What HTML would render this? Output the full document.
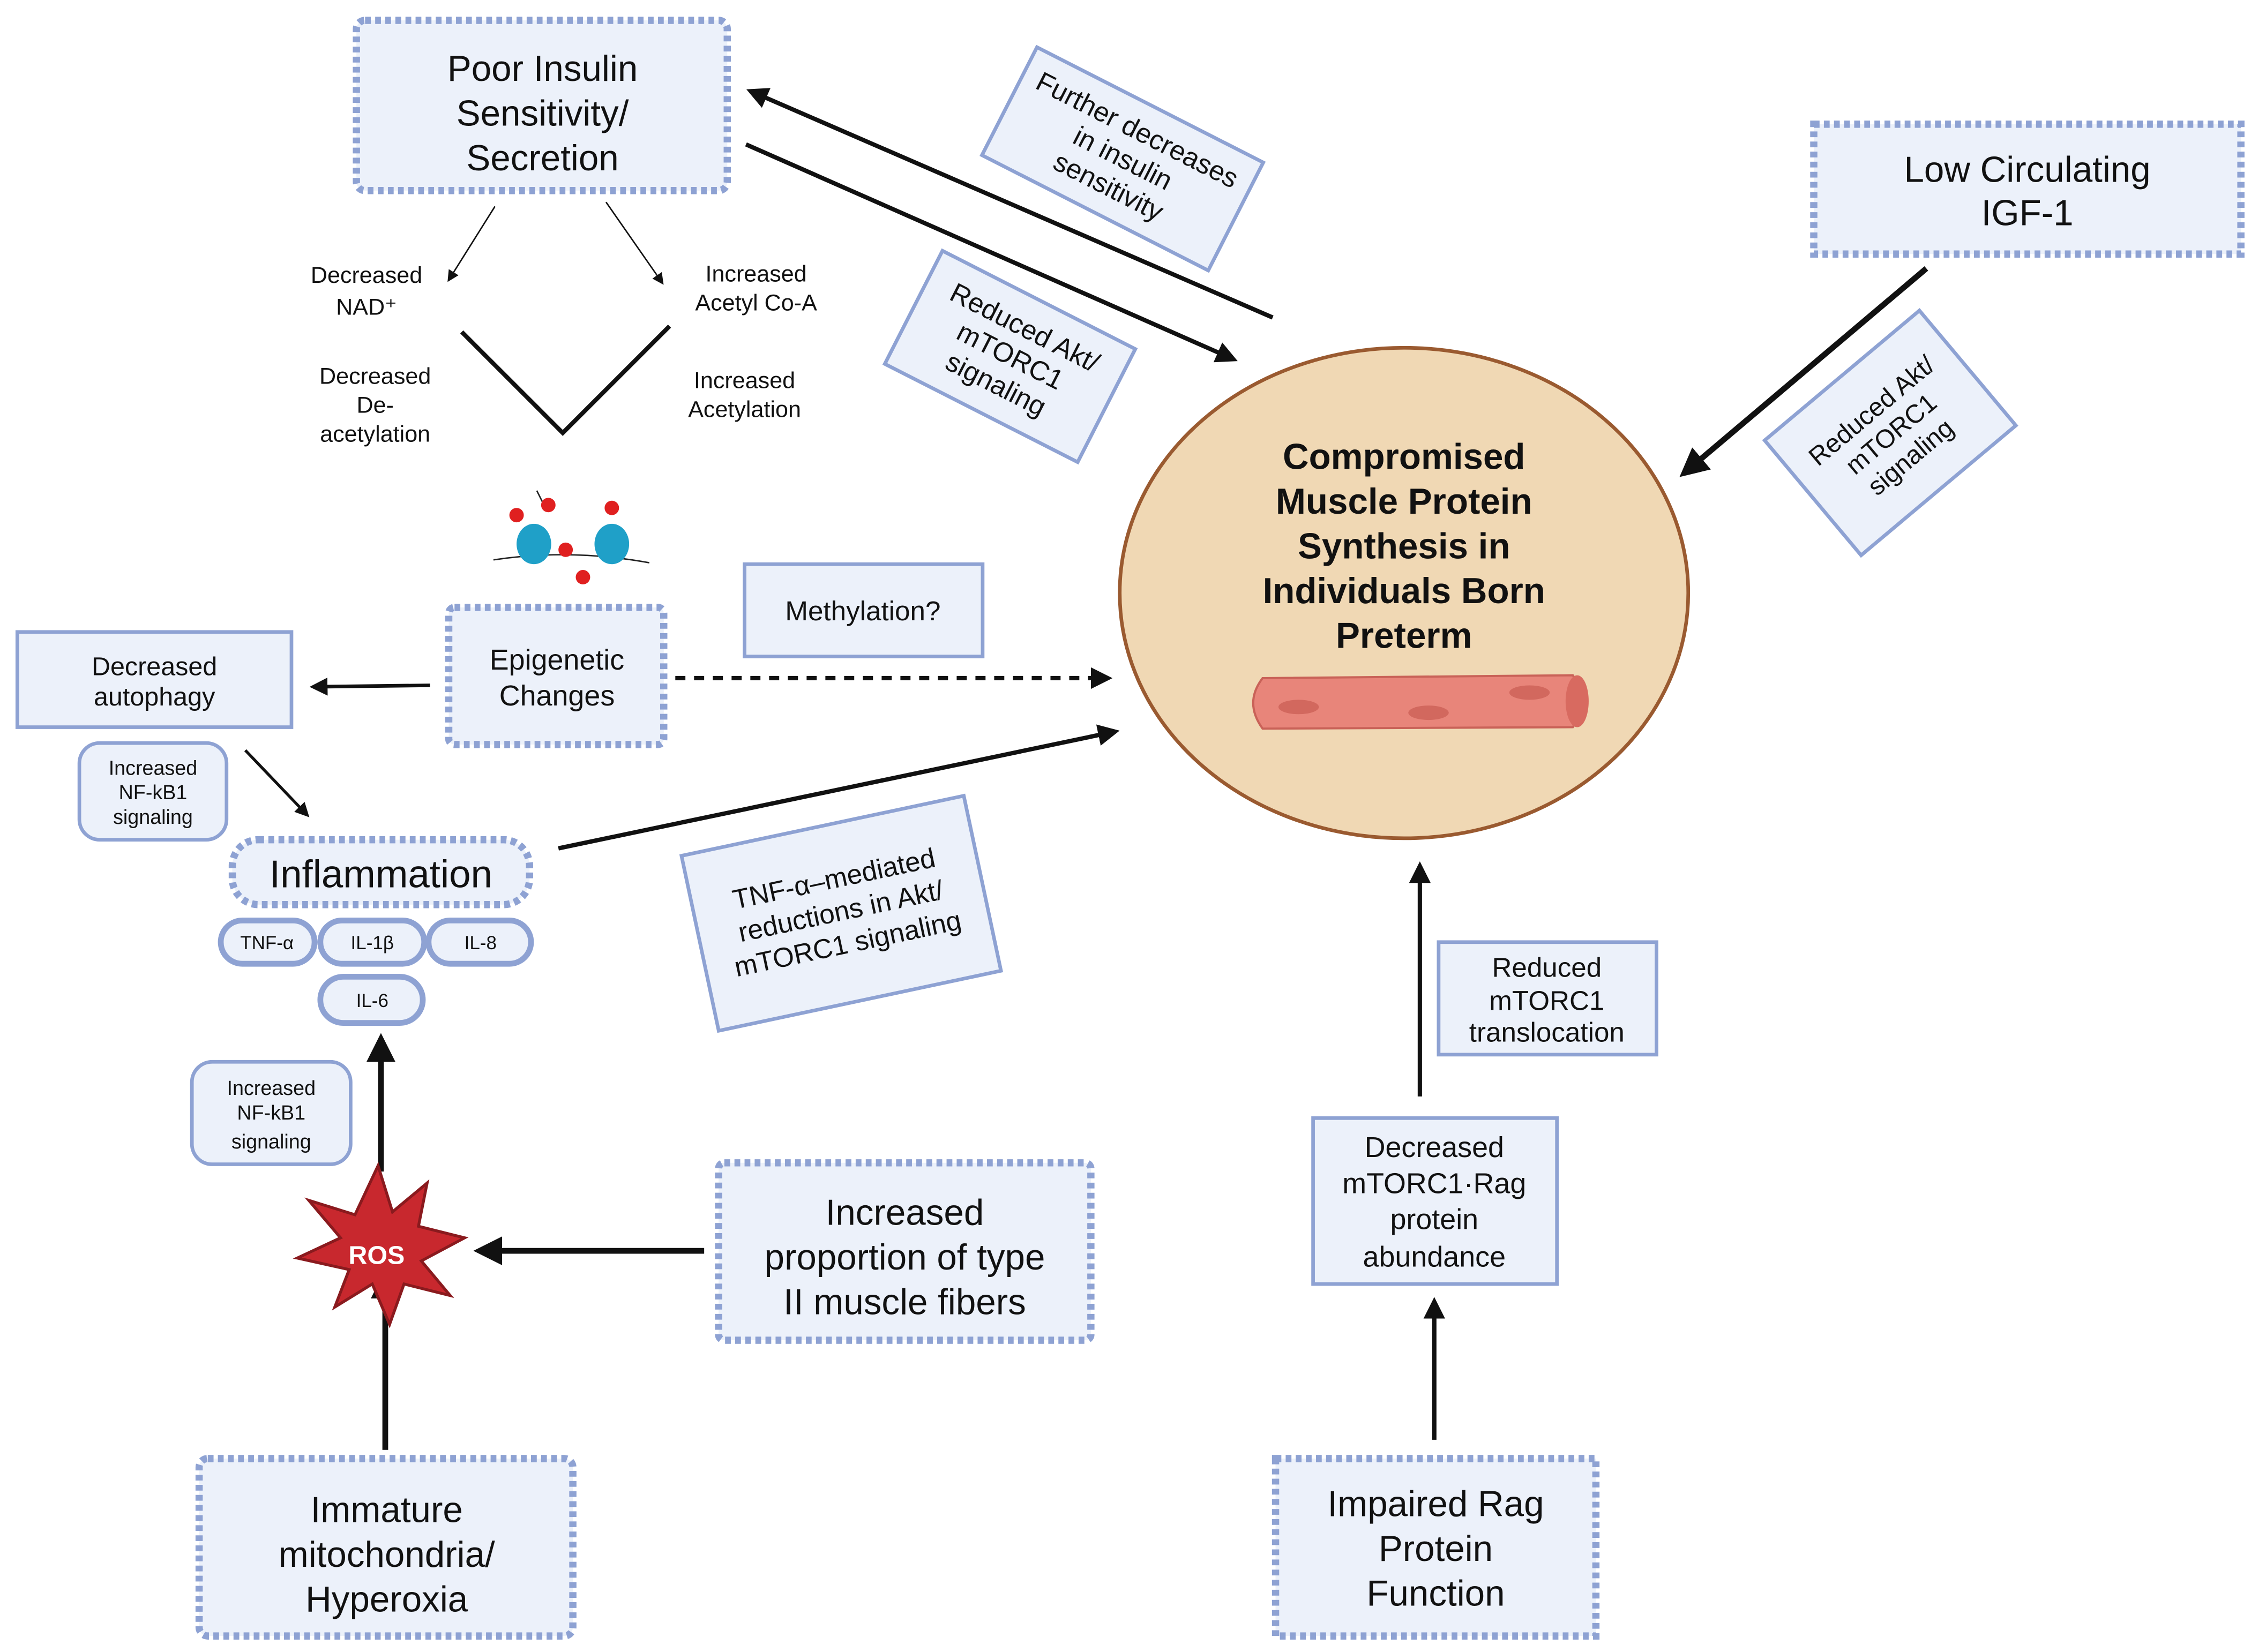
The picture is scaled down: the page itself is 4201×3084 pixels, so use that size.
<!DOCTYPE html>
<html><head><meta charset="utf-8"><style>
html,body{margin:0;padding:0;background:#fff;}
svg{display:block;}
text{font-family:"Liberation Sans",sans-serif;fill:#111;}
</style></head><body>
<svg width="4201" height="3084" viewBox="0 0 1560 1145" xmlns="http://www.w3.org/2000/svg">
<defs>
<marker id="ah" viewBox="0 0 10 10" refX="8" refY="5" markerWidth="5" markerHeight="5" orient="auto"><path d="M0,0 L10,5 L0,10 z" fill="#111"/></marker>
<marker id="ahs" viewBox="0 0 10 10" refX="8" refY="5" markerWidth="8" markerHeight="8" orient="auto"><path d="M0,0 L10,5 L0,10 z" fill="#111"/></marker>
</defs>
<g fill="#ecf1fa" stroke="#8ea2d3" stroke-width="5" stroke-dasharray="4 3">
<rect x="247" y="14" width="257" height="118" rx="6"/>
<rect x="1257" y="86" width="296" height="90"/>
<rect x="311" y="421" width="149" height="95" rx="4"/>
<rect x="161" y="582" width="206" height="45" rx="18"/>
<rect x="498" y="806" width="258" height="123" rx="4"/>
<rect x="138" y="1011" width="259" height="123" rx="6"/>
<rect x="884" y="1011" width="222" height="123"/>
</g>
<g fill="#ecf1fa" stroke="#8ea2d3" stroke-width="2.5">
<rect x="516" y="391" width="165" height="64"/>
<rect x="12" y="438" width="190" height="66"/>
<rect x="997" y="653" width="151" height="78"/>
<rect x="910" y="775" width="169" height="115"/>
<rect x="55" y="515" width="102" height="67" rx="14"/>
<rect x="133" y="736" width="110" height="71" rx="14"/>
<g transform="translate(778,110) rotate(27)"><rect x="-88" y="-42" width="176" height="84"/></g>
<g transform="translate(700,247) rotate(27)"><rect x="-75" y="-44" width="150" height="88"/></g>
<g transform="translate(1310,300) rotate(-40)"><rect x="-70" y="-52" width="140" height="104"/></g>
<g transform="translate(583,633) rotate(-12)"><rect x="-100" y="-62" width="200" height="124"/></g>
</g>
<g fill="#ecf1fa" stroke="#8ea2d3" stroke-width="4">
<rect x="153" y="638" width="65" height="30" rx="15"/>
<rect x="222" y="638" width="72" height="30" rx="15"/>
<rect x="297" y="638" width="71" height="30" rx="15"/>
<rect x="222" y="677" width="71" height="32" rx="16"/>
</g>
<ellipse cx="973" cy="411" rx="197" ry="170" fill="#f0d8b4" stroke="#9a5a30" stroke-width="2.5"/>
<g>
<path d="M875,470 L1090,468 Q1102,486 1090,504 L875,505 Q862,487 875,470z" fill="#e8857a" stroke="#c96258" stroke-width="1.5"/>
<ellipse cx="1093" cy="486" rx="8" ry="18" fill="#d86a60"/>
<ellipse cx="900" cy="490" rx="14" ry="5" fill="#d2685e"/>
<ellipse cx="990" cy="494" rx="14" ry="5" fill="#d2685e"/>
<ellipse cx="1060" cy="480" rx="14" ry="5" fill="#d2685e"/>
</g>
<g stroke="#111" fill="none">
<line x1="882" y1="220" x2="520" y2="63" stroke-width="3" marker-end="url(#ah)"/>
<line x1="517" y1="100" x2="855" y2="249" stroke-width="3" marker-end="url(#ah)"/>
<line x1="1335" y1="186" x2="1167" y2="328" stroke-width="4" marker-end="url(#ah)"/>
<line x1="343" y1="143" x2="311" y2="194" stroke-width="1" marker-end="url(#ahs)"/>
<line x1="420" y1="140" x2="459" y2="196" stroke-width="1" marker-end="url(#ahs)"/>
<polyline points="320,230 390,300 464,226" stroke-width="3"/>
<line x1="468" y1="470" x2="768" y2="470" stroke-width="3" stroke-dasharray="7 6" marker-end="url(#ah)"/>
<line x1="298" y1="475" x2="217" y2="476" stroke-width="2.5" marker-end="url(#ah)"/>
<line x1="170" y1="520" x2="213" y2="565" stroke-width="2" marker-end="url(#ah)"/>
<line x1="387" y1="588" x2="773" y2="507" stroke-width="3" marker-end="url(#ah)"/>
<line x1="264" y1="812" x2="264" y2="720" stroke-width="4" marker-end="url(#ah)"/>
<line x1="488" y1="867" x2="332" y2="867" stroke-width="4" marker-end="url(#ah)"/>
<line x1="267" y1="1005" x2="267" y2="884" stroke-width="4" marker-end="url(#ah)"/>
<line x1="984" y1="760" x2="984" y2="600" stroke-width="3" marker-end="url(#ah)"/>
<line x1="994" y1="998" x2="994" y2="902" stroke-width="3" marker-end="url(#ah)"/>
</g>
<!-- nucleosome -->
<g>
<path d="M342,388 Q395,380 450,390" stroke="#222" fill="none"/>
<ellipse cx="370" cy="377" rx="12" ry="14" fill="#1fa0c8"/>
<ellipse cx="424" cy="377" rx="12" ry="14" fill="#1fa0c8"/>
<line x1="372" y1="340" x2="378" y2="352" stroke="#222"/>
<g fill="#e02020"><circle cx="358" cy="357" r="5"/><circle cx="380" cy="350" r="5"/><circle cx="392" cy="381" r="5"/><circle cx="404" cy="400" r="5"/><circle cx="424" cy="352" r="5"/></g>
</g>
<!-- ROS star -->
<polygon points="262,808 272,840 296,820 290,850 322,858 292,874 312,898 280,890 270,918 258,890 232,906 242,880 206,872 236,858 214,832 246,842" fill="#c8282e" stroke="#8a1a1e" stroke-width="2"/>
<text x="261" y="876" font-size="18" font-weight="bold" text-anchor="middle" style="fill:#fff">ROS</text>
<g text-anchor="middle">
<text font-size="25" x="376"><tspan x="376" y="56">Poor Insulin</tspan><tspan x="376" y="87">Sensitivity/</tspan><tspan x="376" y="118">Secretion</tspan></text>
<text font-size="25"><tspan x="1405" y="126">Low Circulating</tspan><tspan x="1405" y="156">IGF-1</tspan></text>
<text font-size="25" font-weight="bold"><tspan x="973" y="325">Compromised</tspan><tspan x="973" y="356">Muscle Protein</tspan><tspan x="973" y="387">Synthesis in</tspan><tspan x="973" y="418">Individuals Born</tspan><tspan x="973" y="449">Preterm</tspan></text>
<text font-size="16"><tspan x="254" y="196">Decreased</tspan><tspan x="254" y="218">NAD⁺</tspan></text>
<text font-size="16"><tspan x="524" y="195">Increased</tspan><tspan x="524" y="215">Acetyl Co-A</tspan></text>
<text font-size="16"><tspan x="260" y="266">Decreased</tspan><tspan x="260" y="286">De-</tspan><tspan x="260" y="306">acetylation</tspan></text>
<text font-size="16"><tspan x="516" y="269">Increased</tspan><tspan x="516" y="289">Acetylation</tspan></text>
<text font-size="20"><tspan x="386" y="464">Epigenetic</tspan><tspan x="386" y="489">Changes</tspan></text>
<text font-size="19" x="598" y="430">Methylation?</text>
<text font-size="18"><tspan x="107" y="468">Decreased</tspan><tspan x="107" y="489">autophagy</tspan></text>
<text font-size="14"><tspan x="106" y="537">Increased</tspan><tspan x="106" y="554">NF-kB1</tspan><tspan x="106" y="571">signaling</tspan></text>
<text font-size="14"><tspan x="188" y="759">Increased</tspan><tspan x="188" y="776">NF-kB1</tspan><tspan x="188" y="796">signaling</tspan></text>
<text font-size="27" x="264" y="615">Inflammation</text>
<text font-size="13" x="185" y="658">TNF-α</text>
<text font-size="13" x="258" y="658">IL-1β</text>
<text font-size="13" x="333" y="658">IL-8</text>
<text font-size="13" x="258" y="698">IL-6</text>
<text font-size="25"><tspan x="627" y="849">Increased</tspan><tspan x="627" y="880">proportion of type</tspan><tspan x="627" y="911">II muscle fibers</tspan></text>
<text font-size="25"><tspan x="268" y="1055">Immature</tspan><tspan x="268" y="1086">mitochondria/</tspan><tspan x="268" y="1117">Hyperoxia</tspan></text>
<text font-size="25"><tspan x="995" y="1051">Impaired Rag</tspan><tspan x="995" y="1082">Protein</tspan><tspan x="995" y="1113">Function</tspan></text>
<text font-size="19"><tspan x="1072" y="677">Reduced</tspan><tspan x="1072" y="700">mTORC1</tspan><tspan x="1072" y="722">translocation</tspan></text>
<text font-size="20"><tspan x="994" y="802">Decreased</tspan><tspan x="994" y="827">mTORC1·Rag</tspan><tspan x="994" y="852">protein</tspan><tspan x="994" y="878">abundance</tspan></text>
<g transform="translate(778,110) rotate(27)" font-size="19"><text><tspan x="0" y="-16">Further decreases</tspan><tspan x="0" y="6">in insulin</tspan><tspan x="0" y="28">sensitivity</tspan></text></g>
<g transform="translate(700,247) rotate(27)" font-size="19"><text><tspan x="0" y="-16">Reduced Akt/</tspan><tspan x="0" y="6">mTORC1</tspan><tspan x="0" y="28">signaling</tspan></text></g>
<g transform="translate(1310,300) rotate(-40)" font-size="18"><text><tspan x="0" y="-14">Reduced Akt/</tspan><tspan x="0" y="7">mTORC1</tspan><tspan x="0" y="28">signaling</tspan></text></g>
<g transform="translate(583,633) rotate(-12)" font-size="19"><text><tspan x="0" y="-18">TNF-α–mediated</tspan><tspan x="0" y="5">reductions in Akt/</tspan><tspan x="0" y="28">mTORC1 signaling</tspan></text></g>
</g>
</svg>
</body></html>
